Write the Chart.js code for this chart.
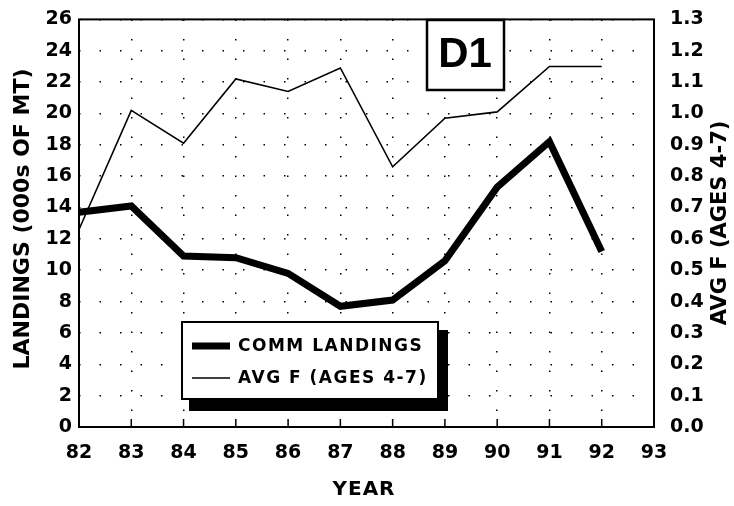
<!DOCTYPE html>
<html>
<head>
<meta charset="utf-8">
<script src="https://cdn.jsdelivr.net/npm/chart.js@4"></script>
<style>
  html, body { margin: 0; padding: 0; background: #fff; }
  #wrap { width: 734px; height: 506px; }
</style>
</head>
<body>
<div id="wrap"><canvas id="chart" width="734" height="506"></canvas></div>
<script>
// values
const years = ['82', '83', '84', '85', '86', '87', '88', '89', '90', '91', '92', '93'];
const commLandings = [13.7, 14.1, 10.9, 10.8, 9.8, 7.7, 8.1, 10.6, 15.3, 18.2, 11.2];
const avgF = [0.63, 1.01, 0.905, 1.11, 1.07, 1.145, 0.83, 0.985, 1.005, 1.15, 1.15];
const leftTicks = [0, 2, 4, 6, 8, 10, 12, 14, 16, 18, 20, 22, 24, 26];
const rightTicks = [0, 0.1, 0.2, 0.3, 0.4, 0.5, 0.6, 0.7, 0.8, 0.9, 1.0, 1.1, 1.2, 1.3];

const FONT = '"DejaVu Sans", Verdana, sans-serif';
const FONT2 = '"Liberation Sans", Arial, sans-serif';

// titles, legend box, D1 label and the frame
const extras = {
    id: 'extras',
    afterDraw(chart) {
        const c = chart.ctx;
        const a = chart.chartArea;
        c.save();
        c.strokeStyle = '#000';
        c.fillStyle = '#000';

        // frame
        c.lineWidth = 2;
        c.strokeRect(a.left, a.top, a.right - a.left, a.bottom - a.top);

        // inward ticks on year axis
        const xs = chart.scales.x;
        c.lineWidth = 1.5;
        for (let i = 1; i < years.length - 1; i++) {
            const px = xs.getPixelForValue(i);
            c.beginPath();
            c.moveTo(px, a.bottom);
            c.lineTo(px, a.bottom - 8);
            c.stroke();
        }

        // axis titles
        c.textAlign = 'center';
        c.textBaseline = 'middle';
        c.font = 'bold 20px ' + FONT;
        c.letterSpacing = '1px';
        c.fillText('YEAR', 364, 490);
        c.font = 'bold 22px ' + FONT;
        c.letterSpacing = '0px';
        c.save();
        c.translate(23, 219);
        c.rotate(-Math.PI / 2);
        c.fillText('LANDINGS (000s OF MT)', 0, 0);
        c.restore();
        c.font = 'bold 21px ' + FONT;
        c.save();
        c.translate(721, 223);
        c.rotate(-Math.PI / 2);
        c.fillText('AVG F (AGES 4-7)', 0, 0);
        c.restore();

        // D1 box
        c.fillStyle = '#fff';
        c.fillRect(427, 20, 77, 70);
        c.lineWidth = 2.5;
        c.strokeRect(427, 20, 77, 70);
        c.fillStyle = '#000';
        c.font = 'bold 42px ' + FONT2;
        c.fillText('D1', 465, 55);

        // legend with drop shadow
        const lx = 182, ly = 322, lw = 256, lh = 77;
        c.fillRect(lx + 7, ly + 8, lw + 3, lh + 4);
        c.fillStyle = '#fff';
        c.fillRect(lx, ly, lw, lh);
        c.lineWidth = 2;
        c.strokeRect(lx, ly, lw, lh);
        c.fillStyle = '#000';
        c.font = 'bold 17px ' + FONT;
        c.letterSpacing = '1.5px';
        c.textAlign = 'left';
        chart.data.datasets.forEach((ds, i) => {
            const yy = ly + 24 + i * 32;
            c.lineWidth = ds.borderWidth;
            c.beginPath();
            c.moveTo(lx + 10, yy);
            c.lineTo(lx + 48, yy);
            c.stroke();
            c.fillText(ds.label, lx + 56, yy + 1);
        });
        c.restore();
    }
};

const tickFont = { family: FONT, weight: 'bold', size: 19 };

new Chart(document.getElementById('chart').getContext('2d'), {
    type: 'line',
    data: {
        labels: years,
        datasets: [{
            label: 'COMM LANDINGS',
            data: commLandings,
            borderColor: '#000',
            borderWidth: 7,
            pointRadius: 0,
            tension: 0,
            yAxisID: 'y'
        }, {
            label: 'AVG F (AGES 4-7)',
            data: avgF,
            borderColor: '#000',
            borderWidth: 1.6,
            pointRadius: 0,
            tension: 0,
            yAxisID: 'y1'
        }]
    },
    options: {
        responsive: false,
        animation: false,
        layout: { padding: { top: 14 } },
        plugins: { legend: { display: false }, tooltip: { enabled: false } },
        scales: {
            x: {
                type: 'category',
                offset: false,
                afterFit: s => { s.height = 79; },
                grid: {
                    color: '#000',
                    lineWidth: 1.5,
                    drawTicks: false
                },
                border: { display: false, dash: [1.5, 18] },
                ticks: {
                    padding: 15,
                    color: '#000',
                    maxRotation: 0,
                    autoSkip: false,
                    font: tickFont
                }
            },
            y: {
                position: 'left',
                min: 0,
                max: 26,
                afterFit: s => { s.width = 79; },
                afterBuildTicks: s => { s.ticks = leftTicks.map(v => ({ value: v })); },
                grid: {
                    color: '#000',
                    lineWidth: 1.5,
                    drawTicks: false
                },
                border: { display: false, dash: [1.5, 19] },
                ticks: {
                    padding: 7,
                    color: '#000',
                    font: tickFont
                }
            },
            y1: {
                position: 'right',
                min: 0,
                max: 1.3,
                afterFit: s => { s.width = 80; },
                afterBuildTicks: s => { s.ticks = rightTicks.map(v => ({ value: v })); },
                grid: { display: false },
                border: { display: false },
                ticks: {
                    padding: 8,
                    color: '#000',
                    callback: v => v.toFixed(1),
                    font: tickFont
                }
            }
        }
    },
    plugins: [extras]
});
</script>
</body>
</html>
